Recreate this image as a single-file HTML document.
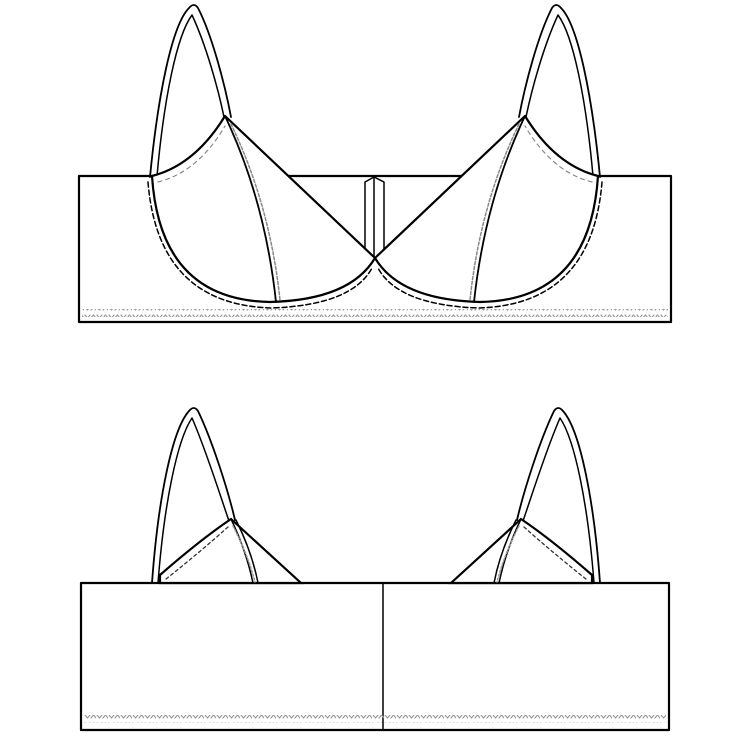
<!DOCTYPE html>
<html><head><meta charset="utf-8"><style>html,body{margin:0;padding:0;background:#fff}svg{display:block}</style></head>
<body>
<svg width="750" height="750" viewBox="0 0 750 750" xmlns="http://www.w3.org/2000/svg" fill="none" stroke="#000" stroke-linecap="round" stroke-linejoin="round">
<defs>
<pattern id="wv" x="0" y="0" width="12" height="8" patternUnits="userSpaceOnUse">
<path d="M1,3 l2.5,3 l2.5,-3 M7,6 l2.5,-3 l2.5,3" stroke="#999" stroke-width="1.2"/>
</pattern>
<g id="topHalf">
  <path d="M150,177 C158,95 172,25 189,8 Q194,2 198,8 C212,35 225,85 231,117" stroke-width="1.8"/>
  <path d="M157,176 C164,98 177,35 192,15 C206,45 218,88 224,117" stroke-width="1.5"/>
  <path d="M152,176 Q195,165 225,116 L375,258 Q350,300 270,302 Q160,300 152,176 Z" fill="#fff" stroke-width="2.2"/>
  <path d="M225,116 Q265,200 276,302" stroke-width="1.8"/>
  <path d="M231,124 Q270,205 280,300" stroke="#888" stroke-width="1.5" stroke-dasharray="3,2"/>
  <path d="M158,182 Q198,172 225,126" stroke="#888" stroke-width="1.2" stroke-dasharray="4,4"/>
  <path d="M148,182 Q158,305 272,308 Q352,305 372,268" stroke-width="1.5" stroke-dasharray="5,3"/>
</g>
<g id="botHalf">
  <path d="M152,583 C158,500 172,430 189,411 Q194,405 198,411 C212,440 228,490 235,520" stroke-width="1.8"/>
  <path d="M158,583 C164,505 177,440 192,418 C206,450 220,495 229,521" stroke-width="1.5"/>
  <path d="M160,575 Q200,540 231,519 L301,583 L160,583 Z" fill="#fff" stroke-width="2.2" stroke-linejoin="miter"/>
  <path d="M231,519 Q246,550 253,583 M236,520 Q252,552 258,583" stroke-width="1.5"/>
  <path d="M233,526 Q248,555 255,582" stroke="#999" stroke-width="1.5" stroke-dasharray="2,2"/>
  <path d="M166,579 Q200,552 228,527" stroke="#333" stroke-width="1.3" stroke-dasharray="3,3"/>
</g>
</defs>

<rect x="79" y="176" width="592" height="146" fill="#fff" stroke-width="2.2"/>
<rect x="82" y="309" width="586" height="8" fill="url(#wv)" stroke="none"/>
<path d="M365,258 L365,182 L374,177 L384,182 L384,258 M374,177 L374,258" stroke-width="1.5"/>
<use href="#topHalf"/>
<use href="#topHalf" transform="translate(750,0) scale(-1,1)"/>

<rect x="81" y="583" width="588" height="147" fill="#fff" stroke-width="2.2"/>
<line x1="383" y1="583" x2="383" y2="730" stroke-width="1.5"/>
<rect x="84" y="715" width="582" height="8" fill="url(#wv)" stroke="none"/>
<use href="#botHalf"/>
<use href="#botHalf" transform="translate(752,0) scale(-1,1)"/>
</svg>
</body></html>
